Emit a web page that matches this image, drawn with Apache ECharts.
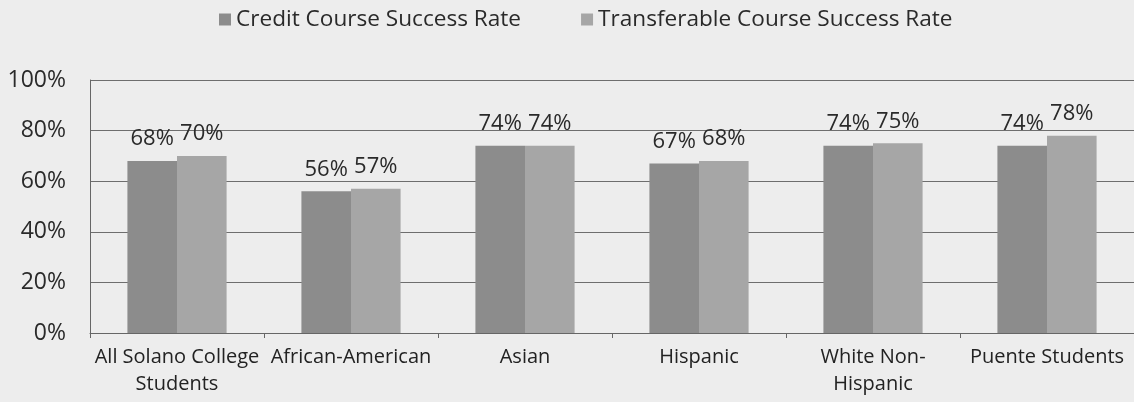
<!DOCTYPE html>
<html><head><meta charset="utf-8">
<script src="https://cdn.jsdelivr.net/npm/echarts@6/dist/echarts.min.js"></script>
<style>html,body{margin:0;padding:0;background:#ededed}#c{width:1134px;height:402px}</style>
</head><body><div id="c"></div>
<script>
var categories = ['All Solano College\nStudents', 'African-American', 'Asian', 'Hispanic', 'White Non-\nHispanic', 'Puente Students'];
var creditRate = [68, 56, 74, 67, 74, 74];
var transferRate = [70, 57, 74, 68, 75, 78];
var seriesNames = ['Credit Course Success Rate', 'Transferable Course Success Rate'];
var yTicks = [0, 20, 40, 60, 80, 100];

var font = 'Open Sans';
var chart = echarts.init(document.getElementById('c'));
var lbl = {show: true, position: 'top', distance: 11, formatter: '{c}%', color: '#2a2a2a', fontSize: 22, fontFamily: font};
chart.setOption({
  backgroundColor: '#ededed',
  animation: false,
  legend: {
    top: 3, left: 214, itemGap: 60, itemWidth: 12, itemHeight: 12,
    textStyle: {fontSize: 22.6, color: '#2a2a2a', fontFamily: font},
    data: [{name: seriesNames[0], icon: 'rect'}, {name: seriesNames[1], icon: 'rect'}]
  },
  grid: {left: 90, right: 0, top: 80, bottom: 69, containLabel: false},
  xAxis: {
    type: 'category', data: categories,
    axisLine: {lineStyle: {color: '#666', width: 1}},
    axisTick: {show: true, lineStyle: {color: '#666'}, length: 5},
    axisLabel: {fontSize: 20, color: '#222', fontFamily: font, lineHeight: 27, margin: 11, interval: 0}
  },
  yAxis: {
    type: 'value', min: 0, max: 100, interval: 20,
    axisLine: {show: true, lineStyle: {color: '#666'}},
    axisLabel: {formatter: function(v){return yTicks.indexOf(v) >= 0 ? v + '%' : '';}, fontSize: 23, color: '#2a2a2a', fontFamily: font, margin: 24},
    splitLine: {lineStyle: {color: '#6e6e6e', width: 1}}
  },
  series: [
    {name: seriesNames[0], type: 'bar', data: creditRate, barGap: '0%', barCategoryGap: '43%',
     itemStyle: {color: '#8c8c8c'}, label: lbl},
    {name: seriesNames[1], type: 'bar', data: transferRate,
     itemStyle: {color: '#a6a6a6'}, label: lbl}
  ]
});
</script></body></html>
